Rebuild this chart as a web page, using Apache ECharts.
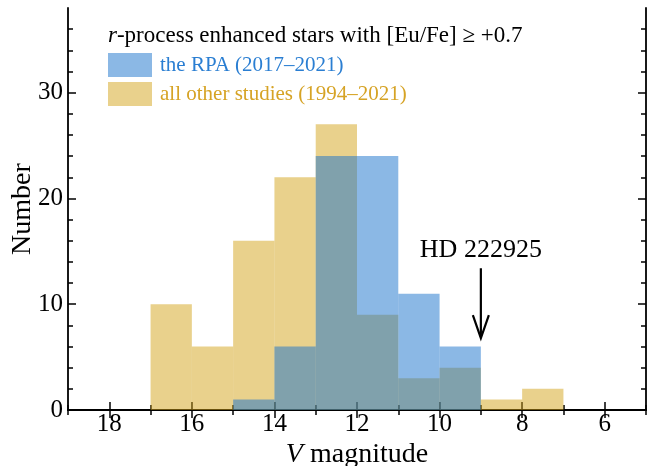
<!DOCTYPE html>
<html><head><meta charset="utf-8">
<script src="https://cdn.jsdelivr.net/npm/echarts@6/dist/echarts.min.js"></script>
<style>html,body{margin:0;padding:0;background:#fff}#c{width:657px;height:466px}</style>
</head><body><div id="c"></div>
<script>
// Histogram bins (V magnitude), width 1: each bin spans [binLeft, binLeft-1]
const binLeft = [17, 16, 15, 14, 13, 12, 11, 10, 9, 8];
const otherCounts = [10, 6, 16, 22, 27, 9, 3, 4, 1, 2];
const rpaCounts = [0, 0, 1, 6, 24, 24, 11, 6, 0, 0];
const xMajor = [6, 8, 10, 12, 14, 16, 18];
const xMinor = [5, 7, 9, 11, 13, 15, 17, 19];
const yMajor = [0, 10, 20, 30];
const yMinor = [2, 4, 6, 8, 12, 14, 16, 18, 22, 24, 26, 28, 32, 34, 36];
const arrowInfo = { x: 9, from: 13.4, to: 6.8, labelY: 15.1, label: 'HD 222925' };

const FONT = 'Liberation Serif';
const chart = echarts.init(document.getElementById('c'), null, { renderer: 'canvas' });

function histData(counts) {
  return binLeft.map((b, i) => [b, b - 1, counts[i]]).filter(d => d[2] > 0);
}
function rectRender(color) {
  return function (params, api) {
    const p0 = api.coord([api.value(0), 0]);
    const p1 = api.coord([api.value(1), api.value(2)]);
    return {
      type: 'rect',
      shape: { x: Math.min(p0[0], p1[0]), y: p1[1], width: Math.abs(p1[0] - p0[0]), height: p0[1] - p1[1] },
      style: { fill: color }
    };
  };
}

const axisLineStyle = { show: true, lineStyle: { color: '#000', width: 1.8 } };
function xAx(grid, pos, ticks, len, labels) {
  return {
    type: 'value', gridIndex: grid, position: pos, min: 5, max: 19, inverse: true,
    axisLine: grid === 0 ? axisLineStyle : { show: false },
    axisTick: { show: true, inside: true, length: len, customValues: ticks, lineStyle: { color: '#000', width: 1.5 } },
    axisLabel: labels ? { show: true, customValues: xMajor, color: '#000', fontFamily: FONT, fontSize: 25, margin: 2 } : { show: false },
    splitLine: { show: false }
  };
}
function yAx(grid, pos, ticks, len, labels) {
  return {
    type: 'value', gridIndex: grid, position: pos, min: 0, max: 38,
    axisLine: grid === 0 ? axisLineStyle : { show: false },
    axisTick: { show: true, inside: true, length: len, customValues: ticks, lineStyle: { color: '#000', width: 1.5 } },
    axisLabel: labels ? { show: true, color: '#000', fontFamily: FONT, fontSize: 25, margin: 5, customValues: yMajor } : { show: false },
    splitLine: { show: false }
  };
}

const xMain0 = xAx(0, 'bottom', xMajor, 8, true);
xMain0.name = '{i|V} magnitude';
xMain0.nameLocation = 'middle';
xMain0.nameGap = 31;
xMain0.nameMoveOverlap = false;
xMain0.nameTextStyle = { color: '#000', fontFamily: FONT, fontSize: 28, rich: { i: { fontStyle: 'italic', fontFamily: FONT, fontSize: 28, color: '#000' } } };
const yMain0 = yAx(0, 'left', yMajor, 8, true);
yMain0.name = 'Number';
yMain0.nameLocation = 'middle';
yMain0.nameGap = 31;
yMain0.nameMoveOverlap = false;
yMain0.nameTextStyle = { color: '#000', fontFamily: FONT, fontSize: 28 };

const gridBox = { left: 68, right: 11, top: 8, bottom: 56, outerBoundsMode: 'none', containLabel: false };

const option = {
  animation: false,
  backgroundColor: '#fff',
  grid: [Object.assign({}, gridBox), Object.assign({}, gridBox)],
  title: {
    text: '{i|r}-process enhanced stars with [Eu/Fe] ≥ +0.7',
    left: 108, top: 24, padding: 0,
    textStyle: { color: '#000', fontFamily: FONT, fontSize: 23, fontWeight: 'normal',
      rich: { i: { fontStyle: 'italic', fontFamily: FONT, fontSize: 23, color: '#000' } } }
  },
  legend: {
    orient: 'vertical', left: 108, top: 53, padding: 0,
    icon: 'rect', itemWidth: 44, itemHeight: 24, itemGap: 5,
    selectedMode: false,
    textStyle: { fontFamily: FONT, fontSize: 21, padding: [0, 0, 0, 3] },
    data: [
      { name: 'the RPA (2017–2021)', itemStyle: { color: '#8bb8e5' }, textStyle: { color: '#2a7ed2', fontFamily: FONT, fontSize: 21, padding: [0, 0, 0, 3] } },
      { name: 'all other studies (1994–2021)', itemStyle: { color: '#e9d18c' }, textStyle: { color: '#d6a325', fontFamily: FONT, fontSize: 21, padding: [0, 0, 0, 3] } }
    ]
  },
  xAxis: [
    xMain0,
    xAx(0, 'top', xMajor, 8, false),
    xAx(1, 'bottom', xMinor, 5, false),
    xAx(1, 'top', xMinor, 5, false)
  ],
  yAxis: [
    yMain0,
    yAx(0, 'right', yMajor, 8, false),
    yAx(1, 'left', yMinor, 5, false),
    yAx(1, 'right', yMinor, 5, false)
  ],
  series: [
    {
      name: 'all other studies (1994–2021)', type: 'custom', xAxisIndex: 0, yAxisIndex: 0,
      renderItem: rectRender('rgba(211,163,25,0.5)'),
      itemStyle: { color: '#e9d18c' },
      data: histData(otherCounts), z: 2, silent: true
    },
    {
      name: 'the RPA (2017–2021)', type: 'custom', xAxisIndex: 0, yAxisIndex: 0,
      renderItem: rectRender('rgba(23,113,203,0.5)'),
      itemStyle: { color: '#8bb8e5' },
      data: histData(rpaCounts), z: 3, silent: true
    },
    {
      name: 'arrow', type: 'custom', xAxisIndex: 0, yAxisIndex: 0, z: 5, silent: true,
      data: [[arrowInfo.x, arrowInfo.from, arrowInfo.to, arrowInfo.labelY]],
      renderItem: function (params, api) {
        const top = api.coord([api.value(0), api.value(1)]);
        const tip = api.coord([api.value(0), api.value(2)]);
        const lbl = api.coord([api.value(0), api.value(3)]);
        const st = { stroke: '#000', lineWidth: 2.2, fill: null };
        return {
          type: 'group',
          children: [
            { type: 'line', shape: { x1: top[0], y1: top[1], x2: tip[0], y2: tip[1] - 1 }, style: st },
            { type: 'polyline', shape: { points: [[tip[0] - 8, tip[1] - 23], [tip[0], tip[1]], [tip[0] + 8, tip[1] - 23]] }, style: st },
            { type: 'text', x: lbl[0], y: lbl[1], style: { text: arrowInfo.label, fill: '#000', font: '26px "' + FONT + '"', align: 'center', verticalAlign: 'middle' } }
          ]
        };
      }
    }
  ]
};
chart.setOption(option);
</script></body></html>
